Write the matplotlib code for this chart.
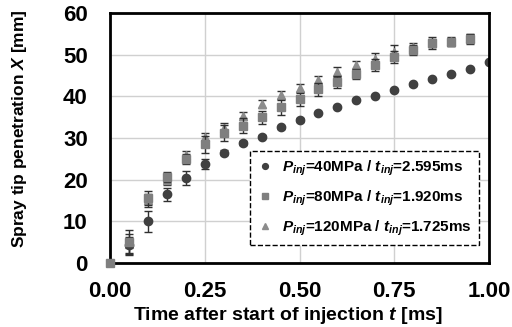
import matplotlib
matplotlib.use("Agg")
from matplotlib import pyplot as plt
import numpy as np

plt.rcParams['font.family'] = ['Liberation Sans', 'DejaVu Sans']
plt.rcParams['font.weight'] = 'bold'
plt.rcParams['axes.labelweight'] = 'bold'
plt.rcParams['mathtext.fontset'] = 'custom'
plt.rcParams['mathtext.it'] = 'Liberation Sans:bold:italic'
plt.rcParams['mathtext.rm'] = 'Liberation Sans:bold'
plt.rcParams['mathtext.bf'] = 'Liberation Sans:bold'

t_40 = [0.00, 0.05, 0.10, 0.15, 0.20, 0.25, 0.30, 0.35, 0.40, 0.45, 0.50,
        0.55, 0.60, 0.65, 0.70, 0.75, 0.80, 0.85, 0.90, 0.95, 1.00]
x_40 = [0.0, 4.3, 10.0, 16.5, 20.4, 23.8, 26.5, 28.8, 30.3, 32.6, 34.3,
        36.0, 37.4, 39.1, 40.1, 41.5, 42.9, 44.2, 45.4, 46.6, 48.2]
err_40 = [0.0, 2.0, 2.5, 1.6, 1.6, 1.2, 0.5, 0.5, 0.4, 0.4, 0.4,
          0.3, 0.3, 0.3, 0.3, 0.3, 0.3, 0.3, 0.3, 0.3, 0.3]

t_80 = [0.00, 0.05, 0.10, 0.15, 0.20, 0.25, 0.30, 0.35, 0.40, 0.45, 0.50,
        0.55, 0.60, 0.65, 0.70, 0.75, 0.80, 0.85, 0.90, 0.95]
x_80 = [0.0, 5.0, 15.6, 20.6, 25.0, 28.5, 31.2, 32.9, 35.0, 37.4, 39.3,
        41.7, 43.5, 45.3, 47.5, 49.4, 51.1, 52.8, 53.0, 53.7]
err_80 = [0.0, 2.8, 1.6, 1.2, 1.2, 2.0, 2.0, 1.8, 1.6, 1.8, 1.6,
          1.5, 1.5, 1.2, 1.5, 1.4, 1.2, 1.4, 1.0, 1.2]

t_120 = [0.00, 0.05, 0.10, 0.15, 0.20, 0.25, 0.30, 0.35, 0.40, 0.45, 0.50,
         0.55, 0.60, 0.65, 0.70, 0.75, 0.80, 0.85, 0.90, 0.95]
x_120 = [0.0, 4.5, 15.0, 20.0, 25.8, 30.3, 32.4, 35.3, 38.2, 40.3, 42.0,
         43.9, 45.8, 47.5, 48.9, 50.6, 51.8, 52.8, 53.2, 54.0]
err_120 = [0.0, 2.5, 1.5, 1.2, 1.0, 1.0, 1.2, 1.0, 1.0, 1.0, 1.0,
           1.0, 1.2, 1.0, 1.6, 1.8, 1.0, 1.0, 1.0, 1.0]

labels = [r'$P_{inj}$=40MPa / $t_{inj}$=2.595ms',
          r'$P_{inj}$=80MPa / $t_{inj}$=1.920ms',
          r'$P_{inj}$=120MPa / $t_{inj}$=1.725ms']

fig = plt.figure(figsize=(5.12, 3.27), dpi=100)
ax = fig.add_axes([0.215, 0.196, 0.74, 0.764])

eb = dict(ecolor='#303030', elinewidth=1, capsize=3, capthick=1)
s3 = ax.errorbar(t_120, x_120, yerr=err_120, fmt='^', ms=6, color='#8c8c8c',
                 zorder=3, **eb)
s2 = ax.errorbar(t_80, x_80, yerr=err_80, fmt='s', ms=6, color='#7f7f7f',
                 zorder=4, **eb)
s1 = ax.errorbar(t_40, x_40, yerr=err_40, fmt='o', ms=6, color='#404040',
                 zorder=5, **eb)
s2[0].set_clip_on(False)
s2[0].set_zorder(11)

ax.set_xlim(0, 1.0)
ax.set_ylim(0, 60)
ax.set_xticks(np.arange(0, 1.01, 0.25))
ax.set_yticks(np.arange(0, 61, 10))
ax.xaxis.set_major_formatter(matplotlib.ticker.FormatStrFormatter('%.2f'))
ax.tick_params(length=0, labelsize=16, pad=13)
ax.tick_params(axis='y', pad=16)
ax.grid(color='#d0d0d0', lw=1)
ax.set_axisbelow(True)
for s in ax.spines.values():
    s.set_linewidth(2)
    s.set_color('black')
    s.set_zorder(10)

ax.set_xlabel(r'Time after start of injection $t$ [ms]', fontsize=14)
ax.set_ylabel(r'Spray tip penetration $X$ [mm]', fontsize=12.5)
ax.xaxis.set_label_coords(0.47, -0.168)
ax.xaxis.label.set_va('top')
ax.yaxis.set_label_coords(-0.215, 0.536)

leg = ax.legend([s1[0], s2[0], s3[0]], labels,
                loc='lower right', bbox_to_anchor=(0.975, 0.07), fontsize=11,
                frameon=True, fancybox=False, framealpha=1, edgecolor='black',
                handlelength=1.0, markerscale=0.7, labelspacing=0.7, borderpad=0.5,
                handletextpad=0.6, borderaxespad=0)
leg.get_frame().set_linestyle('--')
leg.get_frame().set_linewidth(1)
leg.set_zorder(8)

fig.savefig('out.png', dpi=100)
